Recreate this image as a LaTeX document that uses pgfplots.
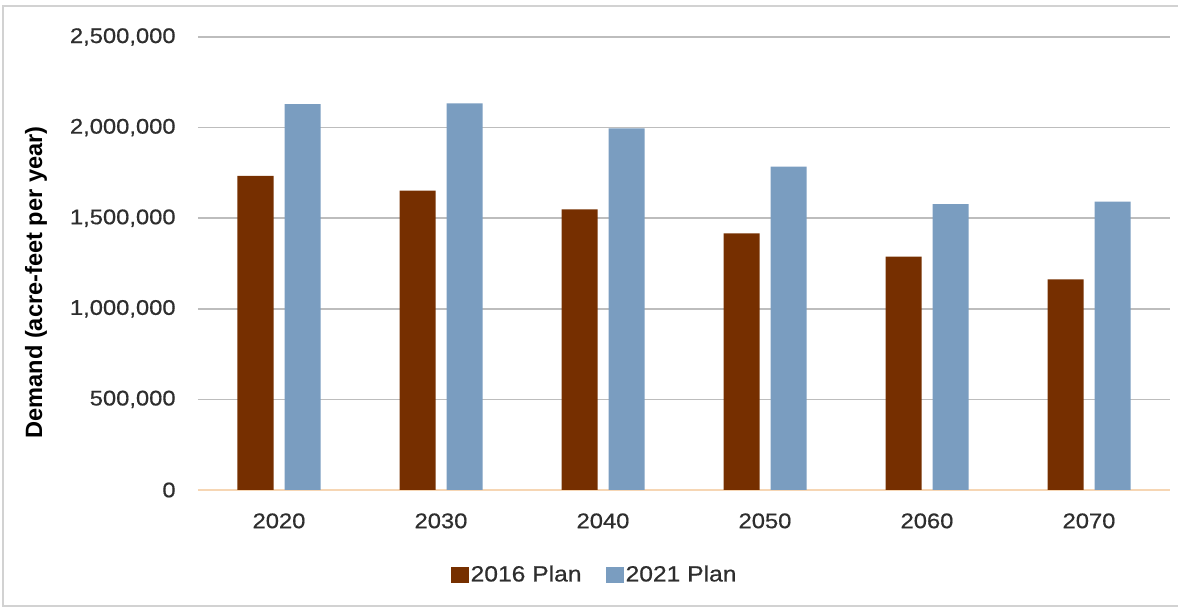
\documentclass[border=0pt]{standalone}
\usepackage{pgfplots}
\pgfplotsset{compat=1.18}
\usepackage{fontspec}
\setmainfont{Liberation Sans}
\newfontfamily\tickfont{Liberation Sans}[FakeStretch=1.12, FakeBold=0.6]
\definecolor{brownbar}{HTML}{762F00}
\definecolor{bluebar}{HTML}{7A9DC0}
\definecolor{gridc}{HTML}{BDBDBD}
\definecolor{zeroc}{HTML}{F6D6B4}
\definecolor{framec}{HTML}{D2D2D2}
\definecolor{txt}{HTML}{2E2E2E}
\begin{document}
\begin{tikzpicture}
\path[use as bounding box] (0,0) rectangle (589pt,304pt);
\draw[framec, line width=1pt] (1.5pt,0.5pt) -- (1.5pt,301pt) -- (589pt,301pt);
\draw[framec, line width=1pt] (1.5pt,1pt) -- (589pt,1pt);
\begin{axis}[
  at={(99pt,59pt)}, anchor=south west,
  width=486pt, height=226.5pt, scale only axis=true,
  ybar=5.5pt, bar width=18pt,
  xmin=-0.5, xmax=5.5, ymin=0, ymax=2500000,
  xtick=data,
  xticklabels={2020,2030,2040,2050,2060,2070},
  ytick={500000,1000000,1500000,2000000,2500000},
  yticklabels={{500,000},{1,000,000},{1,500,000},{2,000,000},{2,500,000}},
  extra y ticks={0},
  extra y tick labels={0},
  extra y tick style={grid style={zeroc, line width=0.8pt}},
  scaled y ticks=false,
  ymajorgrids=true,
  grid style={gridc, line width=0.8pt},
  major tick length=0pt,
  axis line style={draw=none},
  tick label style={font=\tickfont\fontsize{10.6pt}{12pt}\selectfont, text=txt},
  yticklabel style={anchor=east, inner sep=0pt, xshift=-11pt},
  xticklabel style={anchor=north, inner sep=0pt, yshift=-11.5pt},
  legend style={at={(axis description cs:0.408,-0.1876)}, anchor=center,
    draw=none, fill=none, legend columns=2,
    font=\tickfont\fontsize{11pt}{12pt}\selectfont, text=txt,
    nodes={inner sep=1pt},
    /tikz/every even column/.append style={column sep=11pt}},
  legend image code/.code={\fill[#1] (0pt,-4pt) rectangle (9pt,4pt);},
]
\addplot[fill=brownbar, draw=none] coordinates {(0,1733000) (1,1652000) (2,1549000) (3,1416000) (4,1288000) (5,1163000)};
\addplot[fill=bluebar, draw=none] coordinates {(0,2130000) (1,2134000) (2,1996000) (3,1784000) (4,1578000) (5,1591000)};
\legend{2016 Plan, 2021 Plan}
\end{axis}
\node[rotate=90, font=\bfseries\fontsize{11.8pt}{13pt}\selectfont, text=black] at (18pt,162.75pt) {Demand (acre-feet per year)};
\end{tikzpicture}
\end{document}
